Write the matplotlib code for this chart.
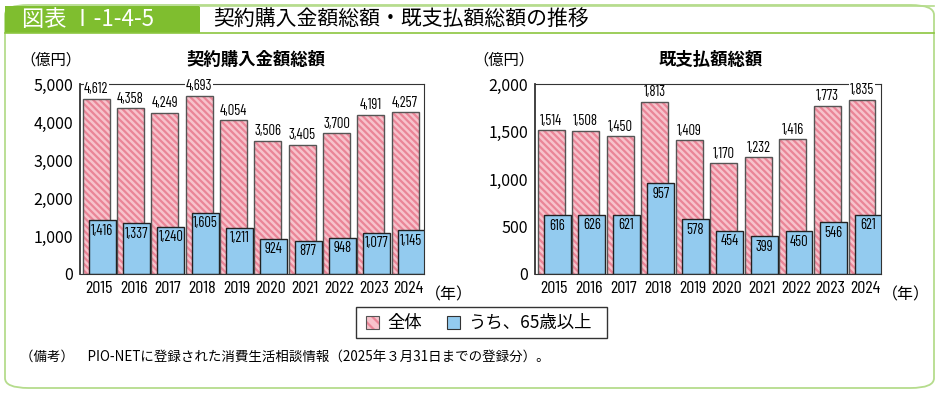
import matplotlib
matplotlib.use("Agg")
import matplotlib.pyplot as plt
from matplotlib.patches import FancyBboxPatch, Rectangle
import numpy as np

plt.rcParams['font.family'] = ['Noto Sans CJK JP', 'DejaVu Sans']
plt.rcParams['hatch.linewidth'] = 1.6

years = ["2015", "2016", "2017", "2018", "2019", "2020", "2021", "2022", "2023", "2024"]
contract_total = [4612, 4358, 4249, 4693, 4054, 3506, 3405, 3700, 4191, 4257]
contract_65 = [1416, 1337, 1240, 1605, 1211, 924, 877, 948, 1077, 1145]
paid_total = [1514, 1508, 1450, 1813, 1409, 1170, 1232, 1416, 1773, 1835]
paid_65 = [616, 626, 621, 957, 578, 454, 399, 450, 546, 621]

W, H = 941, 393
PINK = "#f7c3cc"
PINK_HATCH = "#ea8597"
BLUE = "#93cbef"
NARROW = ["Barlow Condensed", "Archivo Narrow", "DejaVu Sans"]

fig = plt.figure(figsize=(W / 100, H / 100), dpi=100)


def fx(px):
    return px / W


def fy(py):
    return 1 - py / H


# outer frame
fig.patches.append(FancyBboxPatch((fx(5), fy(388)), fx(929), 383 / H,
                                  boxstyle="round,pad=0,rounding_size=0.025",
                                  transform=fig.transFigure, fill=False,
                                  edgecolor="#b5dc8c", linewidth=1.3))
# header
fig.patches.append(Rectangle((fx(5), fy(33)), fx(195), 27 / H, transform=fig.transFigure,
                             facecolor="#7fbe2f", edgecolor="none"))
fig.lines.append(plt.Line2D([fx(5), fx(934)], [fy(33), fy(33)], transform=fig.transFigure,
                            color="#8cc63f", linewidth=1.2))
fig.lines.append(plt.Line2D([fx(200), fx(934)], [fy(6), fy(6)], transform=fig.transFigure,
                            color="#b5dc8c", linewidth=1.2))
fig.text(fx(22), fy(19), "図表 Ⅰ-1-4-5", color="white", fontsize=16, va="center")
fig.text(fx(213), fy(19), "契約購入金額総額・既支払額総額の推移", color="black", fontsize=15, va="center")


def draw_panel(rect, total, sub, ymax, yticks, title, title_x):
    ax = fig.add_axes(rect)
    x = np.arange(len(years))
    ax.bar(x - 0.09, total, width=0.78, color=PINK, edgecolor=PINK_HATCH, linewidth=0,
           hatch="\\\\\\\\\\", zorder=2)
    ax.bar(x - 0.09, total, width=0.78, fill=False, edgecolor="#555555", linewidth=1.0, zorder=2.1)
    ax.bar(x + 0.085, sub, width=0.78, color=BLUE, edgecolor="#222222", linewidth=1.0, zorder=2.2)
    for xi, v in zip(x, total):
        ax.text(xi - 0.09, v + ymax * 0.012, f"{v:,}", ha="center", va="bottom", fontsize=10.5,
                family=NARROW, zorder=4,
                bbox=dict(facecolor="white", edgecolor="none", pad=0.3))
    for xi, v in zip(x, sub):
        ax.text(xi + 0.085, v - ymax * 0.018, f"{v:,}", ha="center", va="top", fontsize=10.5,
                family=NARROW, zorder=4)
    ax.set_ylim(0, ymax)
    ax.set_xlim(-0.56, 9.46)
    ax.set_yticks(yticks)
    ax.set_yticklabels([f"{t:,}" for t in yticks], fontsize=11.5)
    ax.set_xticks(x)
    ax.set_xticklabels(years, family=NARROW, fontsize=13)
    ax.tick_params(length=0, pad=5)
    for s in ax.spines.values():
        s.set_linewidth(0.8)
        s.set_color("#333333")
    ax.spines["left"].set_linewidth(1.3)
    ax.text(1.002, -0.11, "（年）", transform=ax.transAxes, fontsize=11.5, va="center", ha="left")
    fig.text(fx(title_x), fy(60), title, fontsize=12.5, fontweight="bold", ha="center", va="center")
    return ax


draw_panel([fx(80), fy(274), fx(344), 190 / H], contract_total, contract_65, 5000,
           [0, 1000, 2000, 3000, 4000, 5000], "契約購入金額総額", 256)
draw_panel([fx(535), fy(274), fx(346), 190 / H], paid_total, paid_65, 2000,
           [0, 500, 1000, 1500, 2000], "既支払額総額", 711)

fig.text(fx(20), fy(60), "（億円）", fontsize=11, va="center")
fig.text(fx(473), fy(60), "（億円）", fontsize=11, va="center")

# legend
fig.patches.append(Rectangle((fx(356), fy(338)), fx(251), 31 / H, transform=fig.transFigure,
                             fill=False, edgecolor="#333333", linewidth=1.0))
fig.patches.append(Rectangle((fx(366), fy(329)), fx(13), 13 / H, transform=fig.transFigure,
                             facecolor=PINK, edgecolor=PINK_HATCH, hatch="\\\\\\", linewidth=0))
fig.patches.append(Rectangle((fx(366), fy(329)), fx(13), 13 / H, transform=fig.transFigure,
                             fill=False, edgecolor="#555555", linewidth=0.8))
fig.text(fx(387), fy(323), "全体", fontsize=12.5, va="center")
fig.patches.append(Rectangle((fx(447), fy(329)), fx(13), 13 / H, transform=fig.transFigure,
                             facecolor=BLUE, edgecolor="#333333", linewidth=0.8))
fig.text(fx(468), fy(323), "うち、65歳以上", fontsize=12.5, va="center")

fig.text(fx(20), fy(357), "（備考）　PIO-NETに登録された消費生活相談情報（2025年３月31日までの登録分）。",
         fontsize=9.7, va="center")

fig.savefig("out.png", dpi=100)
